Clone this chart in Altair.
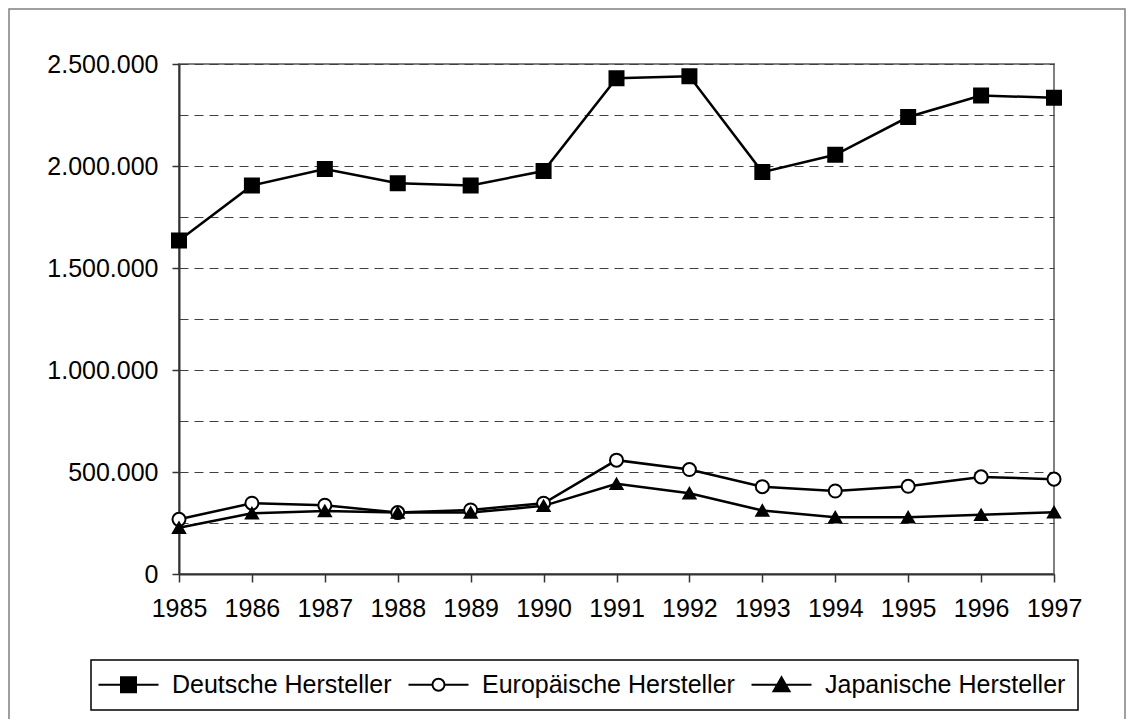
import altair as alt
import pandas as pd

years = list(range(1985, 1998))
series_names = ["Deutsche Hersteller", "Europäische Hersteller", "Japanische Hersteller"]
deutsche = [1635000, 1905000, 1985000, 1915000, 1905000, 1975000, 2430000,
            2440000, 1970000, 2055000, 2240000, 2345000, 2335000]
europaeische = [268000, 347000, 337000, 301000, 314000, 347000, 558000,
                512000, 428000, 407000, 430000, 476000, 465000]
japanische = [227000, 298000, 309000, 301000, 301000, 334000, 442000,
              396000, 311000, 278000, 278000, 290000, 303000]
y_ticks = list(range(0, 2500001, 250000))

rows = []
for name, vals in zip(series_names, [deutsche, europaeische, japanische]):
    for yr, v in zip(years, vals):
        rows.append({"Jahr": yr, "Wert": v, "Serie": name})
df = pd.DataFrame(rows)

FONT = "Liberation Sans"

x_enc = alt.X("Jahr:Q", scale=alt.Scale(domain=[1985, 1997], nice=False, zero=False),
              axis=alt.Axis(values=years, format="d", title=None, grid=False,
                            labelFontSize=25, labelFont=FONT, labelColor="black",
                            tickSize=8, tickColor="#333333", tickWidth=1.5,
                            domainColor="#333333", domainWidth=2, labelPadding=14,
                            labelFlush=False, labelOverlap=False))
y_enc = alt.Y("Wert:Q", scale=alt.Scale(domain=[0, 2500000], nice=False),
              axis=alt.Axis(values=y_ticks, title=None, grid=True,
                            gridDash=[9, 6], gridColor="#404040", gridWidth=1.2,
                            labelExpr="datum.value % 500000 == 0 ? replace(replace(format(datum.value, ','), ',', '.'), ',', '.') : ''",
                            labelFontSize=25, labelFont=FONT, labelColor="black",
                            tickSize=7, tickColor="#333333", tickWidth=1.5,
                            tickOpacity={"expr": "datum.value % 500000 == 0 ? 1 : 0"},
                            domainColor="#333333", domainWidth=2, labelPadding=14,
                            labelFlush=False, labelOverlap=False))

border = alt.Chart(pd.DataFrame({"k": [0]})).mark_rect(
    fillOpacity=0, stroke="#808080", strokeWidth=1.5
).encode(x=alt.value(-170), x2=alt.value(946), y=alt.value(-55), y2=alt.value(700))

lines = alt.Chart(df).mark_line(color="black", strokeWidth=2.5).encode(
    x=x_enc, y=y_enc, detail="Serie:N"
)

points = alt.Chart(df).mark_point(filled=True, stroke="black", strokeWidth=2, opacity=1).encode(
    x=x_enc, y=y_enc,
    shape=alt.Shape("Serie:N", scale=alt.Scale(domain=series_names,
                    range=["square", "circle", "triangle-up"]), legend=None),
    fill=alt.Fill("Serie:N", scale=alt.Scale(domain=series_names,
                  range=["black", "white", "black"]), legend=None),
    size=alt.Size("Serie:N", scale=alt.Scale(domain=series_names,
                  range=[196, 144, 220]), legend=None),
)

legend_paths = [
    "M-3,0H-0.75M0.75,0H3M-0.75,-0.75H0.75V0.75H-0.75Z",
    "M-3,0H-0.6M0.6,0H3M0.6,0A0.6,0.6 0 1,1 -0.6,0A0.6,0.6 0 1,1 0.6,0Z",
    "M-3,0H3M0,-0.75L0.8,0.65L-0.8,0.65Z",
]

leg = alt.Legend(orient="none", legendX=-88, legendY=596, direction="horizontal",
                 columns=3, title=None, labelFont=FONT, labelFontSize=25,
                 labelColor="black", symbolSize=400, symbolStrokeColor="black",
                 symbolStrokeWidth=2, symbolOffset=13, labelOffset=31,
                 columnPadding=12, padding=12,
                 strokeColor="black", fillColor="white", labelLimit=0,
                 symbolOpacity=1)

legend_layer = alt.Chart(df).transform_filter("false").mark_point(
    filled=True, strokeWidth=2, opacity=1
).encode(
    x=x_enc, y=y_enc,
    shape=alt.Shape("Serie:N", scale=alt.Scale(domain=series_names, range=legend_paths),
                    legend=leg),
    fill=alt.Fill("Serie:N", scale=alt.Scale(domain=series_names,
                  range=["black", "white", "black"]), legend=leg),
    stroke=alt.Stroke("Serie:N", scale=alt.Scale(domain=series_names,
                      range=["black", "black", "black"]), legend=leg),
)

chart = alt.layer(border, lines, points, legend_layer).resolve_scale(
    shape="independent", fill="independent", stroke="independent"
).properties(
    width=875, height=510,
    autosize=alt.AutoSizeParams(type="none"),
    padding={"left": 171, "top": 56, "right": 72, "bottom": 145},
    background="white",
).configure_view(
    stroke="#808080", strokeWidth=2
).configure_legend(
    strokeWidth=1.5
)

chart.save("out.html", embed_options={"renderer": "svg", "actions": False})
